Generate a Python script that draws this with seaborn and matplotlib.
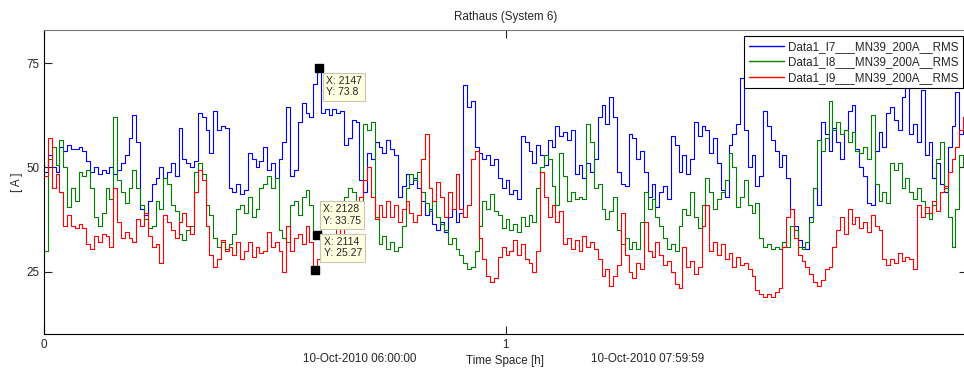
import numpy as np
import pandas as pd
import matplotlib
matplotlib.use("Agg")
import matplotlib.pyplot as plt
import seaborn as sns

# RMS currents in A, one value per 30 s hold interval, 06:00:00 .. 07:59:59
STEP_SECONDS = 30

i7 = [
    49, 53, 50, 49, 55, 54, 55.5, 54.5, 54.5, 55,
    54, 51.5, 49, 50, 48.5, 49.5, 48.7, 50, 48.5, 49.5,
    51, 53, 57, 62.5, 56, 40, 38.5, 42, 46, 47.5,
    50, 47.5, 49, 51, 48, 59.5, 52, 51, 50, 51.5,
    63, 62, 59, 53.5, 63.5, 59, 60, 59.5, 45, 44,
    46, 43.5, 44.5, 53.5, 52, 50, 51.5, 55, 49.5, 51,
    47.5, 52, 56, 64.5, 48, 49.5, 61, 65.5, 63, 62,
    70, 73.8, 63, 64, 62.5, 64, 63, 63.5, 55.5, 57,
    61.5, 61, 47, 44, 53.5, 52, 56, 55, 53.5, 56.5,
    54.5, 53, 43, 45.5, 48.5, 46, 47.5, 45, 42, 38.5,
    40, 36.5, 35, 37, 34.5, 38, 40, 37, 39, 69.8,
    64.5, 66, 55, 53.5, 52, 53, 50.5, 52, 47.5, 45,
    47, 43.5, 44.5, 42.5, 57.5, 56, 54, 51, 55.5, 53,
    50.5, 56.5, 55, 60, 57.5, 58.5, 56.5, 59, 48.5, 50.5,
    47.5, 51, 49, 52, 62, 65, 60.5, 67, 62, 49,
    46, 45.5, 58, 57, 52, 54, 49, 43, 46, 40.5,
    44, 45.5, 42.5, 57.5, 55.5, 49, 53, 48.5, 52, 61,
    57.5, 60, 59, 53.5, 57, 51, 44.5, 43, 55.5, 58,
    60.5, 71.5, 59, 50, 53, 45.5, 48, 63.5, 60, 56.5,
    54, 50, 53, 47.5, 40, 36, 32.5, 31, 30.5, 38,
    45, 41, 61, 58, 54, 59.5, 56, 52, 59, 63.5,
    65, 54.5, 50, 48, 41.5, 41, 54, 58.5, 55, 63,
    64.5, 61.5, 59, 67, 69, 58, 60.5, 56, 68.5, 53,
    56, 47.5, 51, 46, 44, 55, 60, 68, 58, 61,
]

i8 = [
    30, 52, 55, 50.5, 56.5, 50, 40.5, 45, 42, 49,
    48, 49.5, 45, 38, 36, 39, 45, 42.5, 62, 47,
    44, 41.5, 45, 49.5, 45, 41, 37.5, 35.5, 36, 42,
    40, 47.5, 46, 41, 39.5, 34, 32.5, 35, 36, 49,
    51, 48.5, 41, 38.5, 33, 31, 32, 30.5, 31.5, 34,
    40, 41, 39, 43, 38, 40, 45, 46, 48, 45,
    47.5, 35, 33, 32, 41, 42, 38.5, 43, 44.5, 41,
    33.75, 33, 38, 40.5, 42, 39.5, 41, 38.5, 43, 45,
    44, 39.5, 42, 60.5, 59, 61, 38, 31.5, 33.5, 30.5,
    32, 30, 31, 36, 45, 48.5, 47, 49, 44, 41.5,
    39.5, 42, 38, 36.5, 35, 31.5, 33, 30.5, 29, 27,
    25.5, 26, 30, 36, 42, 40, 43.5, 39.5, 38.5, 35.5,
    37.5, 35, 36.5, 34.5, 38, 36, 38.5, 37, 45, 50,
    53, 52, 45.5, 41, 53.5, 48, 42, 44, 42.5, 43,
    42.5, 60.5, 56, 45, 46, 40, 37.5, 39.5, 43, 35,
    31.5, 33, 30.5, 32, 30.5, 37, 44, 40, 42.5, 38,
    36, 33, 30.5, 31.5, 30, 36, 40, 38.5, 44, 38,
    35.5, 41, 47.5, 44, 40, 42.5, 44, 47, 53.5, 50,
    40.5, 43, 47, 41, 39, 41.5, 33, 31, 31.5, 30.5,
    31, 30.5, 32, 31, 36, 35, 31, 30.5, 32, 37,
    45, 56.5, 54, 57, 66, 59, 61, 58, 59, 56,
    58.5, 54, 53.5, 55, 52, 62.5, 46, 42, 44, 41.5,
    51, 49.5, 51, 45, 47.5, 44, 42.5, 45, 42, 39,
    37.5, 41, 52, 56, 45, 38, 31, 40, 53, 50,
]

i9 = [
    48, 57, 45, 48.5, 44, 36, 38.5, 36, 35.5, 36.5,
    35.5, 31.5, 30.5, 33.5, 32, 34, 33.5, 31, 45, 37,
    33, 34.5, 33, 32, 37.5, 36, 39, 33.5, 31, 31.5,
    27, 38.5, 37, 35, 33, 37, 39, 36, 34, 44,
    49.5, 47, 36, 29, 26, 28, 32.5, 30, 31, 29,
    32, 28, 30, 32, 28.5, 31, 29.5, 30, 34.5, 31,
    32, 30, 25, 36, 30, 33, 34, 31.5, 36, 32,
    25.27, 28, 33, 31, 34, 32, 35.5, 33, 37, 41,
    40.5, 38, 43, 47, 50, 43, 37.5, 41, 38, 42,
    38, 41, 37, 40, 42, 39, 37, 38.5, 52, 58,
    45, 42, 46.5, 43, 38, 44, 40, 48.5, 40, 38,
    41, 52, 54, 33, 28, 24, 22.5, 23.5, 28.5, 31,
    29, 30, 32.5, 29, 31.5, 28, 27, 25, 30, 49,
    43, 38, 41, 37, 39.5, 31.5, 33, 30.5, 32.5, 30,
    33.5, 31, 32, 30.5, 28, 24, 25.5, 21.5, 24, 26.5,
    39, 29, 25, 23.5, 27, 25.5, 37, 30, 28.5, 32,
    29, 26.5, 27.5, 25, 22, 21, 31, 26, 27.5, 24.5,
    26, 36, 41, 30, 32, 29, 31.5, 28, 29.5, 26,
    28.5, 26.5, 27, 25.5, 24, 20.5, 19.5, 19, 19.5, 19,
    20, 21, 31, 38, 40, 33, 29, 27.5, 26, 24.5,
    22.5, 21.5, 23, 25.5, 26, 31, 35, 38, 34, 40,
    36.5, 38, 35.5, 37, 34.5, 38.5, 36, 35, 28, 26.5,
    28, 27, 29.5, 27.5, 28.5, 28, 25.5, 41, 38, 40.5,
    39, 42, 39.5, 44, 45.5, 49, 52, 55, 59, 62,
]

series_names = [
    "Data1_I7___MN39_200A__RMS",
    "Data1_I8___MN39_200A__RMS",
    "Data1_I9___MN39_200A__RMS",
]
series_colors = ["#0000FF", "#008000", "#FF0000"]

# data cursors: sample index (s) and value (A)
tip_samples = [2147, 2128, 2114]
tip_values = [73.8, 33.75, 25.27]

x_ticks = [0, 1, 2]
y_ticks = [25, 50, 75]
title = "Rathaus (System 6)"
x_label = "Time Space [h]"
y_label = "[ A ]"
start_label = "10-Oct-2010 06:00:00"
end_label = "10-Oct-2010 07:59:59"

sns.set_style("ticks")
plt.rcParams["font.family"] = ["Liberation Sans", "DejaVu Sans"]
plt.rcParams["font.size"] = 8.4

W, H = 964, 369
fig = plt.figure(figsize=(W / 100, H / 100), dpi=100)
fig.patch.set_facecolor("white")
# the time axis runs to 2 h, just past the right edge of the canvas
ax = fig.add_axes([44 / W, 35 / H, 923 / W, 304 / H])

frames = []
for name, vals in zip(series_names, [i7, i8, i9]):
    v = np.asarray(list(vals) + [vals[-1]], dtype=float)
    t_h = np.arange(len(v)) * STEP_SECONDS / 3600.0
    frames.append(pd.DataFrame({"hours": t_h, "current": v, "series": name}))
df = pd.concat(frames, ignore_index=True)

for name, color in zip(series_names, series_colors):
    sns.lineplot(
        data=df[df["series"] == name], x="hours", y="current",
        color=color, linewidth=0.8, drawstyle="steps-post",
        estimator=None, sort=False, ax=ax, label=name,
    )

# data cursor markers and their tip boxes
tip_layout = [(6.5, -7.5, "top"), (6.5, 9.0, "bottom"), (8.5, 12.0, "bottom")]
for s, v, (dx, dy, va) in zip(tip_samples, tip_values, tip_layout):
    xh = s / 3600.0
    ax.plot([xh], [v], marker="s", markersize=5.5, color="black",
            linestyle="none", zorder=6)
    ax.annotate(
        f"X: {s}\nY: {v:g}", xy=(xh, v), xytext=(dx, dy),
        textcoords="offset pixels", ha="left", va=va, fontsize=7.5,
        bbox=dict(boxstyle="square,pad=0.3", fc="#FFFFE1", ec="#C8C8B0", lw=0.8),
        zorder=7,
    )

ax.set_xlim(0, 2)
ax.set_ylim(10, 83)
ax.set_xticks(x_ticks)
ax.set_yticks(y_ticks)
ax.set_xticklabels([str(t) for t in x_ticks])
ax.set_yticklabels([str(t) for t in y_ticks])
# the "2" label would sit past the canvas edge
ax.get_xticklabels()[-1].set_visible(False)
ax.tick_params(direction="in", length=6, width=0.8, top=True, right=True,
               color="#222222", labelsize=8.4, pad=3.5)
for side in ["left", "bottom", "top", "right"]:
    ax.spines[side].set_visible(True)
    ax.spines[side].set_color("black")
    ax.spines[side].set_linewidth(0.8)
ax.spines["top"].set_color("#777777")

ax.set_title(title, fontsize=8.4, pad=7)
ax.set_xlabel(x_label, fontsize=8.4, labelpad=3)
ax.set_ylabel(y_label, fontsize=8.4, labelpad=2)

fig.text(360 / W, 1 - 359 / H, start_label, ha="center", va="center", fontsize=8.4)
fig.text(648 / W, 1 - 359 / H, end_label, ha="center", va="center", fontsize=8.4)

leg = ax.legend(
    loc="upper right", bbox_to_anchor=(963 / W, 1 - 36 / H),
    bbox_transform=fig.transFigure, borderaxespad=0, frameon=True,
    fancybox=False, edgecolor="black", framealpha=1, handlelength=3.0,
    handletextpad=0.35, labelspacing=0.3, borderpad=0.4, fontsize=8.4,
)
leg.get_frame().set_linewidth(0.8)
for line in leg.get_lines():
    line.set_linewidth(1.0)

fig.savefig("out.png", dpi=100, facecolor="white")
